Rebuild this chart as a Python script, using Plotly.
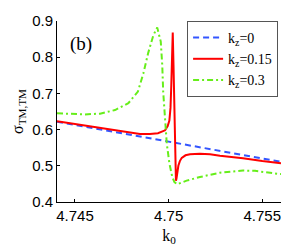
import plotly.graph_objects as go

# ---- data ----
k_blue = [4.74404, 4.7460, 4.7480, 4.7500, 4.7520, 4.7540, 4.7560]
s_blue = [0.622, 0.604, 0.585, 0.566, 0.548, 0.529, 0.511]

k_red = [4.74404, 4.74634, 4.74847, 4.74900, 4.74943, 4.74981, 4.74995, 4.75004,
         4.75010, 4.75014, 4.75018, 4.75022, 4.75026, 4.75029, 4.75032, 4.75035,
         4.75039, 4.75042, 4.75046, 4.75052, 4.75060, 4.75070, 4.75090, 4.75114,
         4.75167, 4.75221, 4.75274, 4.75397, 4.75500, 4.75600]
s_red = [0.623, 0.604, 0.588, 0.588, 0.590, 0.598, 0.610, 0.625,
         0.660, 0.720, 0.800, 0.868, 0.780, 0.680, 0.560, 0.480,
         0.459, 0.465, 0.482, 0.500, 0.513, 0.522, 0.529, 0.532,
         0.533, 0.532, 0.528, 0.521, 0.513, 0.507]

k_green = [4.74404, 4.74553, 4.74634, 4.74714, 4.74785, 4.74836, 4.74865, 4.74891,
           4.74918, 4.74939, 4.74958, 4.74966, 4.74971, 4.74981, 4.74990, 4.75004,
           4.75020, 4.75031, 4.75046, 4.75096, 4.75167, 4.75274, 4.75397, 4.75461,
           4.75600]
s_green = [0.645, 0.642, 0.644, 0.654, 0.673, 0.705, 0.755, 0.812,
           0.860, 0.882, 0.843, 0.778, 0.705, 0.617, 0.562, 0.507,
           0.468, 0.455, 0.449, 0.459, 0.469, 0.481, 0.487, 0.486,
           0.477]

x_ticks = [4.745, 4.75, 4.755]
x_tick_text = ["4.745", "4.75", "4.755"]
y_ticks = [0.4, 0.5, 0.6, 0.7, 0.8, 0.9]
y_tick_text = ["0.4", "0.5", "0.6", "0.7", "0.8", "0.9"]

names = ["k<sub>z</sub>=0", "k<sub>z</sub>=0.15", "k<sub>z</sub>=0.3"]

SERIF = "Liberation Serif"
SANS = "Liberation Sans"

fig = go.Figure()
fig.add_trace(go.Scatter(x=k_blue, y=s_blue, mode="lines", name=names[0],
                         line=dict(color="#3355ff", width=2, dash="6px,4px")))
fig.add_trace(go.Scatter(x=k_red, y=s_red, mode="lines", name=names[1],
                         line=dict(color="#ff0000", width=2)))
fig.add_trace(go.Scatter(x=k_green, y=s_green, mode="lines", name=names[2],
                         line=dict(color="#66ee1a", width=2, dash="6px,3px,2px,3px")))

xr = [4.74404, 4.75600]
yr = [0.4, 0.9]

fig.update_layout(
    width=286, height=250,
    margin=dict(l=57, r=5, t=21, b=48, autoexpand=False),
    paper_bgcolor="white", plot_bgcolor="white",
    showlegend=True,
    legend=dict(x=0.987, y=1.0, xanchor="right", yanchor="top",
                bgcolor="white", bordercolor="#555", borderwidth=1,
                font=dict(family=SERIF, size=14, color="black"),
                tracegroupgap=0, itemwidth=30),
    xaxis=dict(range=xr, tickvals=x_ticks, ticktext=x_tick_text,
               showline=True, linecolor="black", linewidth=1,
               ticks="inside", ticklen=3, tickcolor="black",
               showgrid=False, zeroline=False,
               tickfont=dict(family=SANS, size=15, color="black"),
               title=dict(text="k<sub>0</sub>", standoff=6,
                          font=dict(family=SERIF, size=16, color="black"))),
    yaxis=dict(range=yr, tickvals=y_ticks, ticktext=y_tick_text,
               showline=True, linecolor="black", linewidth=1,
               ticks="inside", ticklen=3, tickcolor="black",
               showgrid=False, zeroline=False,
               tickfont=dict(family=SANS, size=15, color="black"),
               title=dict(text="σ<sub>TM,TM</sub>", standoff=4,
                          font=dict(family=SERIF, size=16, color="black"))),
    xaxis2=dict(overlaying="x", side="top", anchor="y", matches="x", range=xr,
                tickvals=x_ticks, showticklabels=False, showline=True,
                linecolor="#888", linewidth=1, ticks="inside", ticklen=3,
                tickcolor="#888", showgrid=False, zeroline=False),
    yaxis2=dict(overlaying="y", side="right", anchor="x", matches="y", range=yr,
                tickvals=y_ticks, showticklabels=False, showline=True,
                linecolor="#999", linewidth=2, ticks="inside", ticklen=3,
                tickcolor="#999", showgrid=False, zeroline=False),
    annotations=[dict(text="(b)", xref="paper", yref="paper", x=0.107, y=0.873,
                      xanchor="center", yanchor="middle", showarrow=False,
                      font=dict(family=SERIF, size=19, color="black"))],
)

fig.write_html("out.html", config={"displayModeBar": False},
               post_script="document.body.style.margin='0';document.body.style.padding='0';")
